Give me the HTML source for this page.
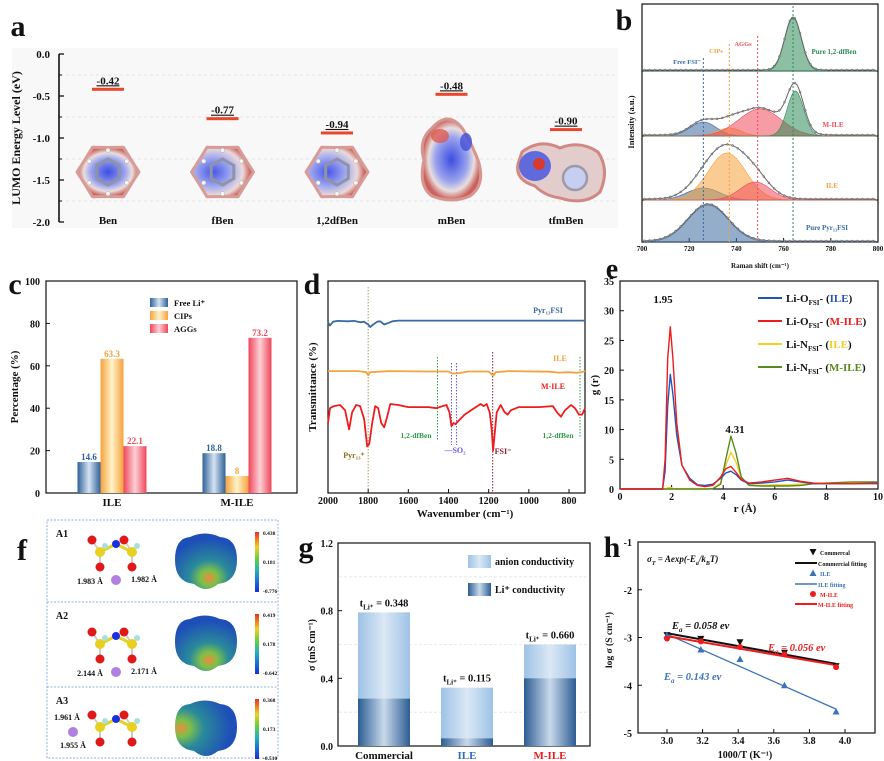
<!DOCTYPE html>
<html><head><meta charset="utf-8"><style>
body{margin:0;background:#fff}
svg{display:block;font-family:"Liberation Serif",serif;font-weight:bold}
</style></head><body>
<svg id="fig" width="884" height="761" viewBox="0 0 884 761" xmlns="http://www.w3.org/2000/svg">
<defs>
<radialGradient id="molA" cx="50%" cy="50%" r="50%"><stop offset="0" stop-color="#3d4de0"/><stop offset="0.55" stop-color="#9aa3ee"/><stop offset="0.78" stop-color="#e9dede"/><stop offset="1" stop-color="#c9625c"/></radialGradient>
<radialGradient id="molB" cx="35%" cy="50%" r="60%"><stop offset="0" stop-color="#4656e6"/><stop offset="0.5" stop-color="#a4abef"/><stop offset="0.8" stop-color="#eadada"/><stop offset="1" stop-color="#c8625c"/></radialGradient>
<radialGradient id="esp" cx="55%" cy="80%" r="70%"><stop offset="0" stop-color="#f08a3a"/><stop offset="0.2" stop-color="#7cc04a"/><stop offset="0.45" stop-color="#2a8a9a"/><stop offset="1" stop-color="#1e4fb8"/></radialGradient>
<radialGradient id="esp3" cx="10%" cy="50%" r="80%"><stop offset="0" stop-color="#f08a3a"/><stop offset="0.18" stop-color="#7cc04a"/><stop offset="0.45" stop-color="#2a8a9a"/><stop offset="1" stop-color="#1e4fb8"/></radialGradient>
<linearGradient id="cbar" x1="0" y1="1" x2="0" y2="0"><stop offset="0" stop-color="#1030e0"/><stop offset="0.35" stop-color="#20b0c0"/><stop offset="0.55" stop-color="#60d040"/><stop offset="0.75" stop-color="#f0d020"/><stop offset="1" stop-color="#e83020"/></linearGradient>
<linearGradient id="gBlue" x1="0" x2="1"><stop offset="0" stop-color="#2f6199"/><stop offset="0.5" stop-color="#d5e3f2"/><stop offset="1" stop-color="#2f6199"/></linearGradient>
<linearGradient id="gOrange" x1="0" x2="1"><stop offset="0" stop-color="#f6a23c"/><stop offset="0.5" stop-color="#fff3c8"/><stop offset="1" stop-color="#f6a23c"/></linearGradient>
<linearGradient id="gRed" x1="0" x2="1"><stop offset="0" stop-color="#f0465a"/><stop offset="0.5" stop-color="#fcd0d6"/><stop offset="1" stop-color="#f0465a"/></linearGradient>
<linearGradient id="gAnion" x1="0" x2="1"><stop offset="0" stop-color="#9ec2e6"/><stop offset="0.5" stop-color="#dbe8f5"/><stop offset="1" stop-color="#9ec2e6"/></linearGradient>
<linearGradient id="gLi" x1="0" x2="1"><stop offset="0" stop-color="#2d5d93"/><stop offset="0.5" stop-color="#c9d9eb"/><stop offset="1" stop-color="#2d5d93"/></linearGradient>
</defs>
</svg>
<script>
const NS="http://www.w3.org/2000/svg";
const svg=document.getElementById('fig');
function mk(tag,attrs,parent,text){const e=document.createElementNS(NS,tag);for(const k in attrs)e.setAttribute(k,attrs[k]);if(text!==undefined)e.textContent=text;(parent||svg).appendChild(e);return e;}
function lin(d0,d1,r0,r1){return v=>r0+(v-d0)*(r1-r0)/(d1-d0);}
function txt(x,y,s,size,opts,name){const t=mk('text',Object.assign({x:x,y:y,'font-size':size,'text-anchor':'middle',fill:'#111'},opts||{}),svg,s);

return t;}
function line(x1,y1,x2,y2,st,w,dash,name){const l=mk('line',{x1:x1,y1:y1,x2:x2,y2:y2,stroke:st,'stroke-width':w||1});if(dash)l.setAttribute('stroke-dasharray',dash);

return l;}
function pathOf(xs,ys){return xs.map((x,i)=>(i?'L':'M')+x.toFixed(1)+' '+ys[i].toFixed(1)).join(' ');}

/* ================= Panel a ================= */
const aCats=['Ben','fBen','1,2dfBen','mBen','tfmBen'];
const aVals=[-0.42,-0.77,-0.94,-0.48,-0.90];
const aTicks=[0,-0.5,-1,-1.5,-2];
const aY=lin(0,-2,54,222);
const aX=lin(0,4,108,566);
txt(18,36,'a',30,{'font-size':30},'panel-a-label');
let bg=mk('rect',{x:12,y:48,width:606,height:180,fill:'#f8f8f8'});


[-0.25,-0.75,-1.25,-1.75].forEach(v=>line(60,aY(v),618,aY(v),'#ddd',0.8,'3 3','a-gridline'));
line(59,aY(0),59,aY(-2),'#111',1.6,null,'a-y-axis');
aTicks.forEach(v=>{line(59,aY(v),64,aY(v),'#111',1.3,null,'a-tick');txt(50,aY(v)+4,v.toFixed(1),11,{'text-anchor':'end'},'a-tick-label');});
[-0.25,-0.75,-1.25,-1.75].forEach(v=>line(59,aY(v),62,aY(v),'#111',1,null,'a-minor-tick'));
txt(20,138,'LUMO Energy Level (eV)',12,{transform:'rotate(-90 20 138)'},'a-y-axis-title');
aCats.forEach((c,i)=>{const x=aX(i);
 const b=mk('rect',{x:x-16,y:aY(aVals[i])-1.5,width:32,height:3,fill:'#e8472d'});
 
 
 txt(x,aY(aVals[i])-5,aVals[i].toFixed(2),11,{'text-decoration':'underline'},'lumo-value');
 txt(x,224,c,11,{},'a-category-label');
});
function benzene(cx,cy,r,fill,name){const g=mk('g',{});
 
 
 let p='';for(let k=0;k<12;k++){const a=k*Math.PI/6;const rr=(k%2?r*0.86:r);p+=(k?'L':'M')+(cx+rr*Math.cos(a)).toFixed(1)+' '+(cy+rr*0.92*Math.sin(a)).toFixed(1);}
 mk('path',{d:p+'Z',fill:fill,stroke:'#d89b96','stroke-width':3,'stroke-linejoin':'round'},g);
 let h='';for(let k=0;k<6;k++){const a=k*Math.PI/3+Math.PI/6;h+=(k?'L':'M')+(cx+r*0.42*Math.cos(a)).toFixed(1)+' '+(cy+r*0.42*Math.sin(a)).toFixed(1);}
 mk('path',{d:h+'Z',fill:'none',stroke:'#8f93a8','stroke-width':3},g);
 for(let k=0;k<6;k++){const a=k*Math.PI/3+Math.PI/6;mk('circle',{cx:cx+r*0.7*Math.cos(a),cy:cy+r*0.7*Math.sin(a),r:2.2,fill:'#f4f4f4',stroke:'#aaa','stroke-width':0.5},g);}
 return g;}
benzene(aX(0),172,31,'url(#molA)','molecule-ben');
benzene(aX(1),172,31,'url(#molB)','molecule-fben');
benzene(aX(2),172,31,'url(#molB)','molecule-12dfben');
let mb=mk('path',{d:'M432 128 Q448 110 462 128 Q470 140 478 160 Q486 185 470 196 Q452 204 432 196 Q418 186 424 160 Q418 140 432 128Z',fill:'url(#molA)',stroke:'#d79590','stroke-width':3});


mk('ellipse',{cx:440,cy:136,rx:9,ry:7,fill:'#dc5a50',opacity:0.8});
mk('ellipse',{cx:466,cy:142,rx:6,ry:9,fill:'#4050d8',opacity:0.8});
let tb=mk('path',{d:'M522 152 Q540 138 560 148 Q580 140 598 152 Q610 170 600 192 Q585 206 560 198 Q545 196 535 186 Q515 180 518 164Z',fill:'#e3cccc',stroke:'#d28882','stroke-width':3});


mk('ellipse',{cx:535,cy:166,rx:16,ry:15,fill:'#4a58de',opacity:0.85});
mk('circle',{cx:539,cy:164,r:6,fill:'#d93a30'});
mk('circle',{cx:575,cy:178,r:12,fill:'#c8cdf2',stroke:'#9a9aa8','stroke-width':2.5});

/* ================= Panel b ================= */
txt(624,30,'b',30,{},'panel-b-label');
const bX=lin(700,800,642,878);
const bTicks=[700,720,740,760,780,800];
const bBase=[71,136,200,242];
const bCenters1=[764], bHeights1=[53], bSig1=[3.5];
const bCenters2=[726,737,750,765], bHeights2=[14,8,27,45], bSig2=[5.5,5,9,3.5];
const bCenters3=[726,736,748], bHeights3=[12,47,18], bSig3=[7,8,6.5];
const bCenters4=[728], bHeights4=[37], bSig4=[8.5];
const bColors2=['#3a6aa0','#f6a23c','#f04a5a','#2e8b57'];
const bRect=mk('rect',{x:642,y:4,width:236,height:238,fill:'none',stroke:'#111','stroke-width':1.2});


[71,136,200].forEach(y=>line(642,y,878,y,'#111',1,null,'b-separator'));
bTicks.forEach(v=>{line(bX(v),242,bX(v),238,'#111',1,null,'b-tick');txt(bX(v),251,String(v),7,{},'b-tick-label');});
txt(760,268,'Raman shift (cm\u207B\u00B9)',7,{},'b-x-axis-title');
txt(634,122,'Intensity (a.u.)',8.5,{transform:'rotate(-90 634 122)'},'b-y-axis-title');
function gauss(x,c,h,s){return h*Math.exp(-0.5*((x-c)/s)**2);}
function drawSub(base,cs,hs,ss,cols,name){
 const xs=[];for(let w=701;w<=799;w+=0.5)xs.push(w);
 cs.forEach((c,k)=>{const ys=xs.map(w=>base-gauss(w,c,hs[k],ss[k]));
  const p=mk('path',{d:pathOf(xs.map(bX),ys)+' L'+bX(799)+' '+base+' L'+bX(701)+' '+base+'Z',fill:cols[k],'fill-opacity':0.55,stroke:cols[k],'stroke-width':0.6});
  
  });
 const env=xs.map(w=>base-1-cs.reduce((s,c,k)=>s+gauss(w,c,hs[k],ss[k]),0));
 const e=mk('path',{d:pathOf(xs.map(bX),env),fill:'none',stroke:'#666','stroke-width':1});
 
 
 for(let w=701;w<=799;w+=2.2){const y=base-1-cs.reduce((s,c,k)=>s+gauss(w,c,hs[k],ss[k]),0);
  const d=mk('circle',{cx:bX(w),cy:y,r:1,fill:'#999',stroke:'#555','stroke-width':0.4});
  
  }
}
drawSub(bBase[0],bCenters1,bHeights1,bSig1,['#2e8b57'],'b-pure-dfben');
drawSub(bBase[1],bCenters2,bHeights2,bSig2,bColors2,'b-m-ile');
drawSub(bBase[2],bCenters3,bHeights3,bSig3,bColors2,'b-ile');
drawSub(bBase[3],bCenters4,bHeights4,bSig4,['#3a6aa0'],'b-pure-pyr');
const bRefLines=[726,737,749,764];
const bRefCols=['#3a6aa0','#f6a23c','#f04a5a','#2e8b57'];
bRefLines.forEach((v,i)=>line(bX(v),[58,44,36,6][i],bX(v),242,bRefCols[i],1,'2 2','b-reference-line'));
txt(687,64,'Free FSI\u207B',6.5,{fill:'#3a6aa0'},'b-free-fsi-label');
txt(716,53,'CIPs',6.5,{fill:'#f6a23c'},'b-cips-label');
txt(743,46,'AGGs',6.5,{fill:'#f04a5a'},'b-aggs-label');
txt(834,54,'Pure  1,2-dfBen',7,{fill:'#2e8b57'},'b-pure-dfben-label');
txt(833,127,'M-ILE',7,{fill:'#f04a5a'},'b-mile-label');
txt(832,188,'ILE',7,{fill:'#f6a23c'},'b-ile-label');
txt(827,230,'Pure Pyr\u2081\u2083FSI',7,{fill:'#3a6aa0'},'b-pure-pyr-label');

/* ================= Panel c ================= */
txt(15,294,'c',30,{},'panel-c-label');
const cCats=['ILE','M-ILE'];
const cFree=[14.6,18.8], cCIP=[63.3,8], cAGG=[22.1,73.2];
const cTicks=[0,20,40,60,80,100];
const cY=lin(0,100,493,281);
const cX=lin(0,1,112,237);
const cFrame=mk('rect',{x:46,y:281,width:251,height:212,fill:'none',stroke:'#111','stroke-width':1.2});


cTicks.forEach(v=>{line(46,cY(v),50,cY(v),'#111',1,null,'c-tick');txt(40,cY(v)+4,String(v),10,{'text-anchor':'end'},'c-tick-label');});
txt(18,387,'Percentage (%)',11,{transform:'rotate(-90 18 387)'},'c-y-axis-title');
const cSeries=[[cFree,'url(#gBlue)','#2f6199','free-li'],[cCIP,'url(#gOrange)','#f6a23c','cips'],[cAGG,'url(#gRed)','#f0465a','aggs']];
const bw=23;
cCats.forEach((c,i)=>{const cx=cX(i);
 cSeries.forEach((s,k)=>{const v=s[0][i];const x=cx+(k-1)*bw-bw/2;
  const r=mk('rect',{x:x,y:cY(v),width:bw,height:cY(0)-cY(v),fill:s[1]});
  
  
  txt(x+bw/2,cY(v)-2,String(v),9,{fill:s[2]},'c-bar-value');});
 txt(cx,506,c,11,{},'c-category-label');});
const cLeg=[['Free Li\u207A','url(#gBlue)'],['CIPs','url(#gOrange)'],['AGGs','url(#gRed)']];
cLeg.forEach((l,k)=>{const y=298+k*13;const r=mk('rect',{x:150,y:y,width:18,height:9,fill:l[1]});
 
 
 txt(174,y+8,l[0],8.5,{'text-anchor':'start'},'c-legend-entry');});

/* ================= Panel d ================= */
txt(312,294,'d',30,{},'panel-d-label');
const dX=lin(2000,800,328,569);
const dY=lin(0,100,493,281);
const dTicks=[2000,1800,1600,1400,1200,1000,800];
const pyrWn=[2000,1990,1975,1950,1900,1870,1840,1820,1800,1790,1775,1755,1740,1720,1705,1680,1650,720];
const pyrT=[80.5,79,80.8,81.2,81,81.2,80.5,80.8,79.5,78.3,79.5,80.8,81,79.5,80,81,81.3,81.3];
const ileWn=[2000,1850,1810,1800,1790,1700,1500,1400,1380,1350,1300,1200,1185,1175,1165,1100,900,850,800,760,730,720];
const ileT=[57.5,57.5,57,55.5,57,57.5,57.3,57.3,56.3,56.5,57.3,57.3,56,55.5,57,57.5,57.2,56.8,57,56.7,57.2,57.5];
const mWn=[2000,1990,1970,1940,1915,1895,1880,1860,1840,1820,1805,1795,1780,1765,1750,1735,1720,1705,1690,1650,1600,1500,1460,1430,1410,1395,1385,1375,1365,1350,1320,1280,1240,1225,1210,1195,1185,1178,1170,1160,1140,1120,1105,1090,1050,950,880,860,840,820,790,770,750,735,725,720];
const mT=[33,40,41,41.5,39,30,38,41.5,41,35,22,23,33,41,40,33,31,36,42,41.5,40.5,40.5,40,41,41.5,38,31.5,33,32.5,34,37,39.5,42,41,42,38,30,20,28,38,41.5,38,37,39,40.5,40.5,41,38,36,39,41.5,40,37,37,39,40];
const dFrame=mk('rect',{x:328,y:281,width:257,height:212,fill:'none',stroke:'#111','stroke-width':1.2});


dTicks.forEach(v=>{line(dX(v),493,dX(v),489,'#111',1,null,'d-tick');txt(dX(v),504,String(v),10,{},'d-tick-label');});
txt(465,517,'Wavenumber (cm\u207B\u00B9)',11,{},'d-x-axis-title');
txt(316,387,'Transmittance (%)',11,{transform:'rotate(-90 316 387)'},'d-y-axis-title');
const dRefs=[[1800,287,489,'#b59a5a'],[1455,357,440,'#2e9a4a'],[1385,363,445,'#6a5ad8'],[1360,363,445,'#6a5ad8'],[1180,352,493,'#8b1a2a'],[745,357,438,'#2e9a4a']];
dRefs.forEach(r=>line(dX(r[0]),r[1],dX(r[0]),r[2],r[3],1,'1.5 1.5','d-reference-line'));
[[pyrWn,pyrT,'#3a6aa0','d-series-pyr13fsi'],[ileWn,ileT,'#f6a23c','d-series-ile'],[mWn,mT,'#ee1c1c','d-series-m-ile']].forEach(s=>{
 const p=mk('path',{d:pathOf(s[0].map(dX),s[1].map(dY)),fill:'none',stroke:s[2],'stroke-width':1.8,'stroke-linejoin':'round'});
 
 });
txt(548,313,'Pyr\u2081\u2083FSI',8,{fill:'#3a6aa0'},'d-pyr-label');
txt(560,361,'ILE',8,{fill:'#f6a23c'},'d-ile-label');
txt(553,389,'M-ILE',8,{fill:'#ee1c1c'},'d-mile-label');
txt(354,458,'Pyr\u2081\u2083\u207A',8,{fill:'#8a7020'},'d-pyr-cation-label');
txt(416,438,'1,2-dfBen',7.5,{fill:'#2e9a4a'},'d-dfben-label');
txt(455,453,'\u2014SO\u2082',8,{fill:'#6a5ad8'},'d-so2-label');
txt(503,454,'FSI\u207B',8,{fill:'#8b1a2a'},'d-fsi-label');
txt(558,438,'1,2-dfBen',7.5,{fill:'#2e9a4a'},'d-dfben-label-2');

/* ================= Panel e ================= */
txt(612,278,'e',28,{},'panel-e-label');
const eX=lin(0,10,620,878), eY=lin(0,35,489,281);
const eXT=[0,2,4,6,8,10], eYT=[0,5,10,15,20,25,30,35];
const eR=[0,1.65,1.75,1.85,1.95,2.05,2.2,2.4,2.7,3.0,3.3,3.6,3.9,4.1,4.3,4.5,4.7,5.0,5.5,6.0,6.5,7.0,7.5,8,9,10];
const eLiOile=[0,0,3,14,19.3,16,9,4,1.8,0.7,0.6,0.8,1.8,2.7,3.0,2.4,1.5,0.9,1.0,1.2,1.5,1.2,0.9,0.9,0.9,1.0];
const eLiOmile=[0,0,5,22,27.3,22,11,4,1.5,0.6,0.4,0.6,2.0,3.4,3.8,2.8,1.6,1.0,1.2,1.5,1.8,1.3,1.0,0.9,0.9,0.9];
const eLiNile=[0,0,0,0.2,0.3,0.1,0,0,0,0,0,0.1,1.0,4.0,6.2,4.5,1.8,0.7,0.6,0.7,0.7,0.8,0.9,1.0,1.1,1.1];
const eLiNmile=[0,0,0,0,0,0,0,0,0,0,0,0.05,0.8,5.0,8.9,6.0,2.0,0.6,0.5,0.5,0.5,0.6,0.9,1.0,1.2,1.2];
const eFrame=mk('rect',{x:620,y:281,width:258,height:208,fill:'none',stroke:'#111','stroke-width':1.2});


eXT.forEach(v=>{line(eX(v),489,eX(v),485,'#111',1,null,'e-tick');txt(eX(v),500,String(v),10,{},'e-tick-label');});
eYT.forEach(v=>{line(620,eY(v),624,eY(v),'#111',1,null,'e-tick');txt(614,eY(v)+4,String(v),10,{'text-anchor':'end'},'e-tick-label');});
txt(745,512,'r (\u00C5)',11,{},'e-x-axis-title');
txt(598,385,'g (r)',11,{transform:'rotate(-90 598 385)'},'e-y-axis-title');
const eSeries=[[eLiNile,'#f5d020','li-n-ile'],[eLiNmile,'#5a8a1e','li-n-mile'],[eLiOile,'#2255bb','li-o-ile'],[eLiOmile,'#ee1c1c','li-o-mile']];
eSeries.forEach(s=>{const p=mk('path',{d:pathOf(eR.map(eX),s[0].map(eY)),fill:'none',stroke:s[1],'stroke-width':1.4,'stroke-linejoin':'round'});
 
 });
txt(663,303,'1.95',11,{},'e-peak-label-1');
txt(735,433,'4.31',11,{},'e-peak-label-2');
const eLeg=[['Li-O','FSI','ILE','#2255bb','#2255bb'],['Li-O','FSI','M-ILE','#ee1c1c','#ee1c1c'],['Li-N','FSI','ILE','#f5d020','#f5d020'],['Li-N','FSI','M-ILE','#5a8a1e','#5a8a1e']];
eLeg.forEach((l,k)=>{const y=298+k*23;line(758,y,782,y,l[3],2,null,'e-legend-line');
 const t=mk('text',{x:786,y:y+4,'font-size':11,fill:'#111'});
 
 
 mk('tspan',{},t,l[0]);mk('tspan',{'font-size':7,dy:3},t,l[1]);mk('tspan',{dy:-3},t,'- (');mk('tspan',{fill:l[4]},t,l[2]);mk('tspan',{},t,')');});

/* ================= Panel f ================= */
txt(22,560,'f',30,{},'panel-f-label');
const fFrame=mk('rect',{x:47,y:520,width:231,height:238,fill:'none',stroke:'#8fb0d8','stroke-width':1,'stroke-dasharray':'2 1.5'});


line(47,602,278,602,'#8fb0d8',1,'2 1.5','f-divider');line(47,687,278,687,'#8fb0d8',1,'2 1.5','f-divider');
const fRows=[['A1',520,['0.438','0.181','-0.776'],['1.983 \u00C5','1.982 \u00C5']],['A2',602,['0.419','0.178','-0.642'],['2.144 \u00C5','2.171 \u00C5']],['A3',687,['0.368','0.173','-0.510'],['1.961 \u00C5','1.955 \u00C5']]];
fRows.forEach((r,i)=>{const y0=r[1];
 txt(62,y0+17,r[0],10,{},'f-row-label-'+r[0]);
 const g=mk('g',{});
 
 
 const sx=[100,132],cy=y0+(i===1?42:(i===2?40:32));
 mk('line',{x1:sx[0],y1:cy,x2:116,y2:cy-8,stroke:'#e8d020','stroke-width':3},g);
 mk('line',{x1:116,y1:cy-8,x2:sx[1],y2:cy,stroke:'#e8d020','stroke-width':3},g);
 sx.forEach(x=>{mk('line',{x1:x,y1:cy,x2:x-8,y2:cy-12,stroke:'#ccc','stroke-width':2},g);mk('line',{x1:x,y1:cy,x2:x,y2:cy+15,stroke:'#ccc','stroke-width':2},g);
  mk('circle',{cx:x,cy:cy,r:5,fill:'#e8d020'},g);mk('circle',{cx:x-8,cy:cy-12,r:4.5,fill:'#e01818'},g);mk('circle',{cx:x,cy:cy+15,r:4.5,fill:'#e01818'},g);mk('circle',{cx:x+5,cy:cy-6,r:3,fill:'#a8e0e0'},g);});
 mk('circle',{cx:116,cy:cy-8,r:4,fill:'#1a30e0'},g);
 if(i<2){mk('circle',{cx:116,cy:cy+28,r:5,fill:'#b080e0'},g);
  txt(90,cy+32,r[3][0],8,{},'f-distance-label');txt(144,cy+30,r[3][1],8,{},'f-distance-label');}
 else{mk('circle',{cx:73,cy:cy+5,r:5,fill:'#b080e0'},g);
  txt(67,cy-7,r[3][0],8,{},'f-distance-label');txt(73,cy+21,r[3][1],8,{},'f-distance-label');}
 const e=mk('path',{d:`M${175} ${y0+40} Q175 ${y0+18} 190 ${y0+17} Q205 ${y0+10} 220 ${y0+17} Q237 ${y0+18} 237 ${y0+40} Q237 ${y0+62} 218 ${y0+64} Q206 ${y0+74} 194 ${y0+64} Q175 ${y0+62} 175 ${y0+40}Z`,fill:i===2?'url(#esp3)':'url(#esp)'});
 
 
 const cb=mk('rect',{x:255,y:y0+12,width:4,height:60,fill:'url(#cbar)'});
 
 
 r[2].forEach((v,k)=>txt(263,y0+15+k*29,v,5.5,{'text-anchor':'start'},'f-colorbar-tick'));
});

/* ================= Panel g ================= */
txt(306,557,'g',30,{},'panel-g-label');
const gCats=['Commercial','ILE','M-ILE'];
const gTotal=[0.79,0.345,0.60];
const gLi=[0.28,0.045,0.40];
const gTLi=['0.348','0.115','0.660'];
const gTicks=[0,0.4,0.8,1.2];
const gY=lin(0,1.2,746,543);
const gX=lin(0,2,384,550);
const gFrame=mk('rect',{x:338,y:543,width:252,height:203,fill:'none',stroke:'#111','stroke-width':1.2});


[0.2,0.6,1.0].forEach(v=>line(339,gY(v),589,gY(v),'#e4e4e4',0.8,'3 2','g-gridline'));
gTicks.forEach(v=>{line(338,gY(v),342,gY(v),'#111',1,null,'g-tick');txt(333,gY(v)+4,v.toFixed(1),10,{'text-anchor':'end'},'g-tick-label');});
txt(315,645,'\u03C3 (mS cm\u207B\u00B9)',10,{transform:'rotate(-90 315 645)'},'g-y-axis-title');
const gCols=['#111','#2f6cc0','#ee1c1c'];
gCats.forEach((c,i)=>{const x=gX(i)-26,w=52;
 const a=mk('rect',{x:x,y:gY(gTotal[i]),width:w,height:gY(0)-gY(gTotal[i]),fill:'url(#gAnion)'});
 
 
 const l=mk('rect',{x:x,y:gY(gLi[i]),width:w,height:gY(0)-gY(gLi[i]),fill:'url(#gLi)'});
 
 
 const t=mk('text',{x:gX(i),y:gY(gTotal[i])-6,'font-size':10.5,'text-anchor':'middle',fill:'#111'});
 
 
 mk('tspan',{},t,'t');mk('tspan',{'font-size':7,dy:3},t,'Li\u207A');mk('tspan',{dy:-3},t,' = '+gTLi[i]);
 txt(gX(i),759,c,11,{fill:gCols[i]},'g-category-label');});
[['anion conductivity','url(#gAnion)',561],['Li\u207A conductivity','url(#gLi)',589]].forEach(l=>{
 const r=mk('rect',{x:468,y:l[2]-6,width:23,height:13,fill:l[1]});
 
 
 txt(495,l[2]+4,l[0],10,{'text-anchor':'start'},'g-legend-entry');});

/* ================= Panel h ================= */
txt(612,557,'h',30,{},'panel-h-label');
const hX=lin(3.0,4.0,667,845), hY=lin(-1,-5,542,733);
const hXT=[3.0,3.2,3.4,3.6,3.8,4.0], hYT=[-1,-2,-3,-4,-5];
const hInvT=[3.0,3.19,3.41,3.66,3.95];
const hCom=[-2.95,-3.03,-3.1,-3.32,-3.6];
const hIle=[-2.95,-3.25,-3.45,-4.0,-4.55];
const hMile=[-3.02,-3.08,-3.2,-3.35,-3.62];
const hFitX=[3.0,3.95];
const hFitCom=[-2.91,-3.55], hFitIle=[-2.93,-4.5], hFitMile=[-2.97,-3.58];
const hFrame=mk('rect',{x:638,y:542,width:237,height:191,fill:'none',stroke:'#111','stroke-width':1.2});


hXT.forEach(v=>{line(hX(v),733,hX(v),729,'#111',1,null,'h-tick');txt(hX(v),744,v.toFixed(1),10,{},'h-tick-label');});
hYT.forEach(v=>{line(638,hY(v),642,hY(v),'#111',1,null,'h-tick');txt(632,hY(v)+4,String(v),10,{'text-anchor':'end'},'h-tick-label');});
txt(745,758,'1000/T (K\u207B\u00B9)',10,{},'h-x-axis-title');
txt(612,640,'log \u03C3 (S cm\u207B\u00B9)',9.5,{transform:'rotate(-90 612 640)'},'h-y-axis-title');
[[hFitCom,'#111'],[hFitIle,'#3a74b8'],[hFitMile,'#ee1c1c']].forEach((f,k)=>{
 const p=mk('path',{d:pathOf(hFitX.map(hX),f[0].map(hY)),stroke:f[1],'stroke-width':k===1?1.3:2,fill:'none'});
 
 });
function triDown(x,y,c,n){const p=mk('path',{d:`M${x-3.5} ${y-3} L${x+3.5} ${y-3} L${x} ${y+3.5}Z`,fill:c});}
function triUp(x,y,c,n){const p=mk('path',{d:`M${x-3.5} ${y+3} L${x+3.5} ${y+3} L${x} ${y-3.5}Z`,fill:c});}
function dot(x,y,c,n){const p=mk('circle',{cx:x,cy:y,r:3,fill:c});}
hInvT.forEach((t,i)=>{triDown(hX(t),hY(hCom[i]),'#111','h-point-commercial');triUp(hX(t),hY(hIle[i]),'#3a74b8','h-point-ile');dot(hX(t),hY(hMile[i]),'#ee1c1c','h-point-m-ile');});
triDown(813,552,'#111','h-legend-marker');txt(820,555,'Commercal',6,{'text-anchor':'start'},'h-legend-entry');
line(795,563,817,563,'#111',2,null,'h-legend-line');txt(818,566,'Commercial fitting',6,{'text-anchor':'start'},'h-legend-entry');
triUp(813,573,'#3a74b8','h-legend-marker');txt(820,576,'ILE',6,{'text-anchor':'start',fill:'#3a74b8'},'h-legend-entry');
line(795,584,817,584,'#3a74b8',1.5,null,'h-legend-line');txt(818,587,'ILE fitting',6,{'text-anchor':'start',fill:'#3a74b8'},'h-legend-entry');
dot(813,594,'#ee1c1c','h-legend-marker');txt(820,597,'M-ILE',6,{'text-anchor':'start',fill:'#ee1c1c'},'h-legend-entry');
line(795,604,817,604,'#ee1c1c',2,null,'h-legend-line');txt(818,607,'M-ILE fitting',6,{'text-anchor':'start',fill:'#ee1c1c'},'h-legend-entry');
function ea(x,y,val,col,name){const t=mk('text',{x:x,y:y,'font-size':10.5,'font-style':'italic',fill:col});
 
 
 mk('tspan',{},t,'E');mk('tspan',{'font-size':7,dy:3},t,'a');mk('tspan',{dy:-3},t,' = '+val+' ev');}
ea(672,629,'0.058','#111','h-ea-commercial');
ea(768,651,'0.056','#ee1c1c','h-ea-m-ile');
ea(664,680,'0.143','#3a74b8','h-ea-ile');
const ft=mk('text',{x:647,y:562,'font-size':9,'font-style':'italic',fill:'#111'});


mk('tspan',{},ft,'\u03C3');mk('tspan',{'font-size':6,dy:3},ft,'T');mk('tspan',{dy:-3},ft,' = Aexp(-E');mk('tspan',{'font-size':6,dy:3},ft,'a');mk('tspan',{dy:-3},ft,'/k');mk('tspan',{'font-size':6,dy:3},ft,'B');mk('tspan',{dy:-3},ft,'T)');
</script>
</body></html>
